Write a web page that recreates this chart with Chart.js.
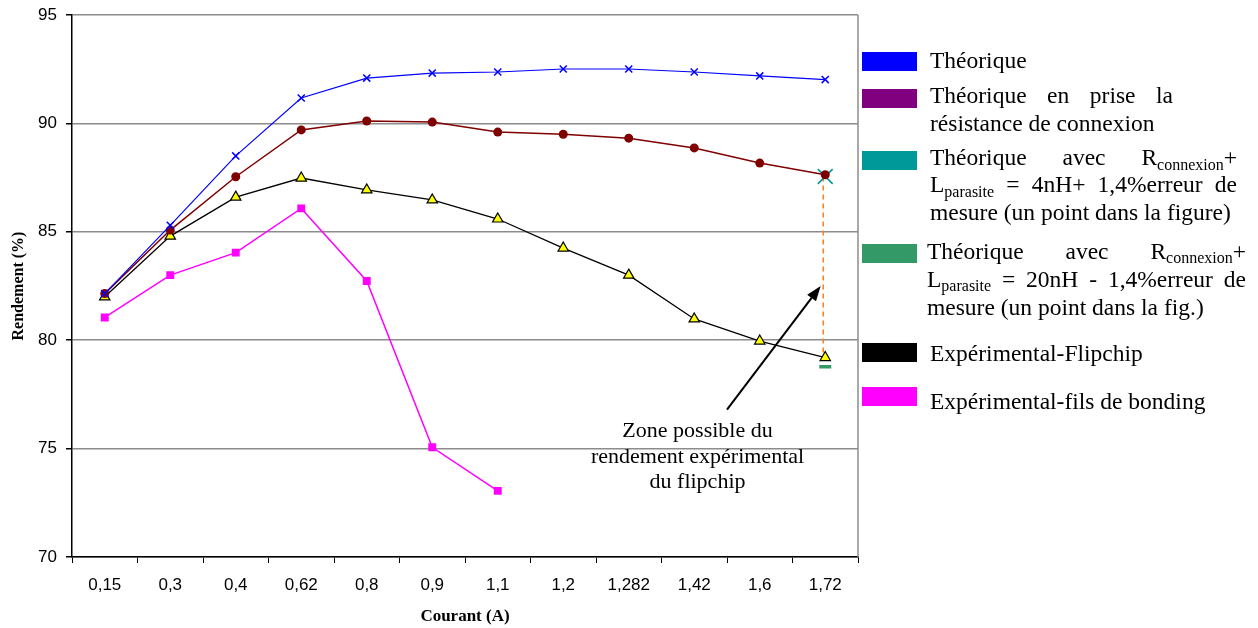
<!DOCTYPE html>
<html><head><meta charset="utf-8">
<script src="https://cdn.jsdelivr.net/npm/chart.js@4.4.0/dist/chart.umd.min.js"></script>
<style>html,body{margin:0;padding:0;background:#fff;}#wrap{width:1258px;height:628px;position:relative;}</style>
</head><body><div id="wrap"><canvas id="c" width="1258" height="628"></canvas></div>
<script>
const categories = ['0,15','0,3','0,4','0,62','0,8','0,9','1,1','1,2','1,282','1,42','1,6','1,72'];
const theorique = [82.15, 85.3, 88.5, 91.17, 92.09, 92.32, 92.37, 92.51, 92.51, 92.37, 92.19, 92.02];
const theoriqueResistance = [82.15, 85.08, 87.54, 89.7, 90.11, 90.06, 89.6, 89.5, 89.32, 88.87, 88.17, 87.63];
const theoriqueL4nH = [null, null, null, null, null, null, null, null, null, null, null, 87.55];
const theoriqueL20nH = [null, null, null, null, null, null, null, null, null, null, null, 78.77];
const experimentalFlipchip = [82.0, 84.8, 86.6, 87.48, 86.93, 86.47, 85.59, 84.25, 83.0, 80.98, 79.96, 79.2];
const experimentalBonding = [81.05, 83.0, 84.04, 86.08, 82.73, 75.06, 73.05, null, null, null, null, null];
const seriesNames = ['Théorique', 'Théorique en prise la résistance de connexion',
  'Théorique avec Rconnexion+ Lparasite = 4nH+ 1,4%erreur de mesure (un point dans la figure)',
  'Théorique avec Rconnexion+ Lparasite = 20nH - 1,4%erreur de mesure (un point dans la fig.)',
  'Expérimental-Flipchip', 'Expérimental-fils de bonding'];
const yMin = 70, yMax = 95, yStep = 5;
const xTitle = 'Courant (A)';
const yTitle = 'Rendement (%)';
const annotationLines = ['Zone possible du', 'rendement expérimental', 'du flipchip'];
const arrowTail = [9.5, 76.8];
const arrowHead = [10.93, 82.5];
const annotationAnchor = [9.05, 75.52];

const MAIN = '23.5px "Liberation Serif"';
const SUB = '16px "Liberation Serif"';

function parseWord(w){
  const runs=[]; const re=/_\{([^}]*)\}/g; let last=0,m;
  while((m=re.exec(w))){ if(m.index>last) runs.push([w.slice(last,m.index),false]); runs.push([m[1],true]); last=re.lastIndex; }
  if(last<w.length) runs.push([w.slice(last),false]);
  return runs;
}
function wordWidth(ctx,runs){ let w=0; for(const [t,s] of runs){ ctx.font=s?SUB:MAIN; w+=ctx.measureText(t).width; } return w; }
function drawWord(ctx,runs,x,y){ for(const [t,s] of runs){ ctx.font=s?SUB:MAIN; ctx.fillText(t,x,s?y+4.5:y); x+=ctx.measureText(t).width; } }
function drawLine(ctx,text,x,y,width,justify){
  const words=text.split(' ').map(parseWord);
  const widths=words.map(r=>wordWidth(ctx,r));
  ctx.font=MAIN; let gap=ctx.measureText(' ').width;
  if(justify && words.length>1){ const tot=widths.reduce((a,b)=>a+b,0); gap=(width-tot)/(words.length-1); }
  let cx=x; words.forEach((r,i)=>{ drawWord(ctx,r,cx,y); cx+=widths[i]+gap; });
}

const legendLayout = [
  {color:'#0000FF', box:52, x:930, w:0, lines:[['Théorique',68,false]]},
  {color:'#800080', box:89, x:930, w:243, lines:[['Théorique en prise la',103,true],['résistance de connexion',130.5,false]]},
  {color:'#009999', box:151, x:930, w:307, lines:[['Théorique avec R_{connexion}+',165,true],['L_{parasite} = 4nH+ 1,4%erreur de',192,true],['mesure (un point dans la figure)',220,false]]},
  {color:'#339966', box:244, x:927, w:319, lines:[['Théorique avec R_{connexion}+',258.5,true],['L_{parasite} = 20nH - 1,4%erreur de',286.5,true],['mesure (un point dans la fig.)',315,false]]},
  {color:'#000000', box:343, x:930, w:0, lines:[['Expérimental-Flipchip',361,false]]},
  {color:'#FF00FF', box:387, x:930, w:0, lines:[['Expérimental-fils de bonding',408.5,false]]}
];

const extras = {
  id:'extras',
  beforeDatasetsDraw(chart){
    const {ctx, chartArea:a, scales:{x,y}} = chart;
    ctx.save();
    ctx.strokeStyle='#8c8c8c'; ctx.lineWidth=1.5;
    ctx.beginPath(); ctx.moveTo(a.right,a.top); ctx.lineTo(a.right,a.bottom); ctx.stroke();
    const px = x.getPixelForValue(11)-2;
    ctx.strokeStyle='#ff7f27'; ctx.lineWidth=1.6; ctx.setLineDash([5,4]);
    ctx.beginPath(); ctx.moveTo(px, y.getPixelForValue(theoriqueL4nH[11])); ctx.lineTo(px, y.getPixelForValue(experimentalFlipchip[11])); ctx.stroke();
    ctx.restore();
  },
  afterDatasetsDraw(chart){
    const {ctx, chartArea:a, scales:{x,y}} = chart;
    ctx.save();
    const x0=x.getPixelForValue(arrowTail[0]), y0=y.getPixelForValue(arrowTail[1]);
    const x1=x.getPixelForValue(arrowHead[0]), y1=y.getPixelForValue(arrowHead[1]);
    const ang=Math.atan2(y1-y0,x1-x0), L=15, W=5.5;
    const bx=x1-L*Math.cos(ang), by=y1-L*Math.sin(ang);
    ctx.strokeStyle='#000'; ctx.fillStyle='#000'; ctx.lineWidth=2;
    ctx.beginPath(); ctx.moveTo(x0,y0); ctx.lineTo(bx,by); ctx.stroke();
    ctx.beginPath(); ctx.moveTo(x1,y1);
    ctx.lineTo(bx+W*Math.sin(ang), by-W*Math.cos(ang));
    ctx.lineTo(bx-W*Math.sin(ang), by+W*Math.cos(ang));
    ctx.closePath(); ctx.fill();
    ctx.font='22px "Liberation Serif"'; ctx.textAlign='center'; ctx.textBaseline='alphabetic';
    const tx=x.getPixelForValue(annotationAnchor[0]); let ty=y.getPixelForValue(annotationAnchor[1]);
    annotationLines.forEach((t,i)=>ctx.fillText(t,tx,ty+i*25.5));
    ctx.textAlign='left';
    legendLayout.forEach(it=>{
      ctx.fillStyle=it.color; ctx.fillRect(a.right+4,it.box,55,19);
      ctx.fillStyle='#000';
      it.lines.forEach(([t,by2,j])=>drawLine(ctx,t,it.x,by2,it.w,j));
    });
    ctx.restore();
  }
};

new Chart(document.getElementById('c'), {
  type:'line',
  data:{ labels:categories, datasets:[
    {label:seriesNames[0], data:theorique, borderColor:'#0000FF', backgroundColor:'#0000FF', borderWidth:1.2, pointStyle:'crossRot', pointRadius:5, pointBorderWidth:1.5, pointBorderColor:'#0000FF'},
    {label:seriesNames[1], data:theoriqueResistance, borderColor:'#800000', backgroundColor:'#800000', borderWidth:1.5, pointStyle:'circle', pointRadius:4.5, pointBorderWidth:0},
    {label:seriesNames[2], data:theoriqueL4nH, showLine:false, borderColor:'#009999', backgroundColor:'#009999', pointStyle:'crossRot', pointRadius:10.5, pointBorderWidth:1.6},
    {label:seriesNames[3], data:theoriqueL20nH, showLine:false, borderColor:'#339966', backgroundColor:'#339966', pointStyle:'line', pointRadius:6, pointBorderWidth:3.5},
    {label:seriesNames[4], data:experimentalFlipchip, borderColor:'#000000', backgroundColor:'#FFFF00', borderWidth:1.3, pointStyle:'triangle', pointRadius:6, pointBorderWidth:1.2, pointBorderColor:'#000'},
    {label:seriesNames[5], data:experimentalBonding, borderColor:'#FF00FF', backgroundColor:'#FF00FF', borderWidth:1.5, pointStyle:'rect', pointRadius:5.6, pointBorderWidth:0}
  ]},
  options:{
    responsive:false, animation:false, spanGaps:false,
    layout:{padding:{left:0, top:15, right:400, bottom:0}},
    plugins:{legend:{display:false}, tooltip:{enabled:false}},
    elements:{line:{tension:0}},
    scales:{
      x:{
        offset:true,
        grid:{display:true, drawOnChartArea:false, offset:true, tickLength:6, tickColor:'#000', lineWidth:1},
        border:{color:'#000', width:1.5},
        ticks:{color:'#000', font:{family:'"Liberation Sans"', size:17}, padding:12, maxRotation:0, autoSkip:false},
        title:{display:true, text:xTitle, color:'#000', font:{family:'"Liberation Serif"', size:17, weight:'bold'}, padding:{top:0,bottom:1.6}},
        afterFit(s){ s.height=71; s.paddingLeft=0; s.paddingRight=0; }
      },
      y:{
        min:yMin, max:yMax,
        grid:{color:'#8c8c8c', lineWidth:1.5, tickLength:6, tickColor:'#000'},
        border:{color:'#000', width:1.5},
        ticks:{stepSize:yStep, color:'#000', font:{family:'"Liberation Sans"', size:17}, padding:9},
        title:{display:true, text:yTitle, color:'#000', font:{family:'"Liberation Serif"', size:16, weight:'bold'}, padding:{top:9.5,bottom:0}},
        afterFit(s){ s.width=72; s.paddingTop=0; s.paddingBottom=0; }
      }
    }
  },
  plugins:[extras]
});
</script></body></html>
